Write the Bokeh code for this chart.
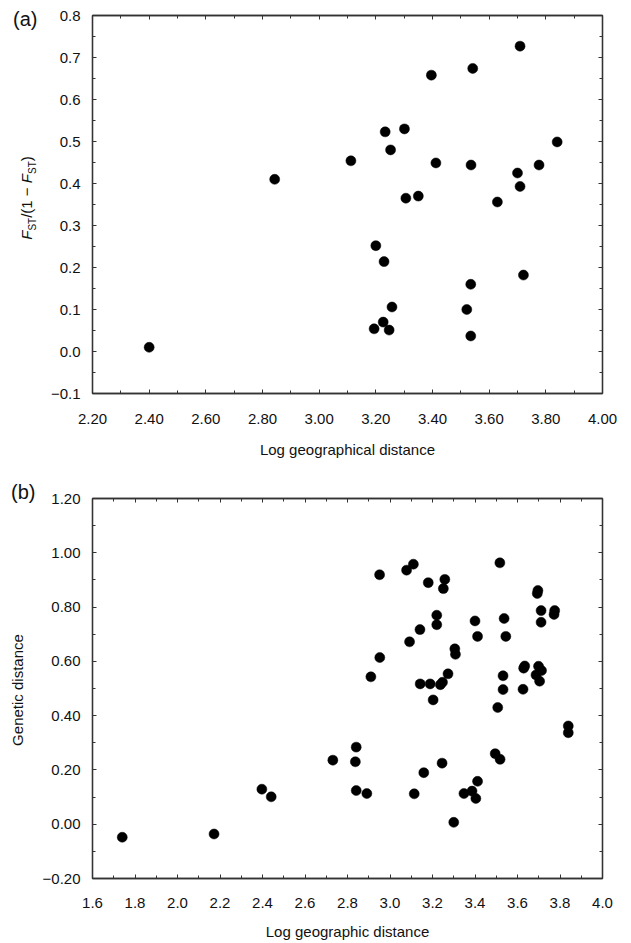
from bokeh.plotting import figure
from bokeh.models import (Range1d, LinearAxis, FixedTicker, CustomJSTickFormatter,
                          ColumnDataSource, Div)
from bokeh.layouts import column, row
from bokeh.embed import file_html
from bokeh.resources import INLINE

# ---------------- data: panel (a) ----------------
a_x = [2.400, 2.843, 3.112, 3.200, 3.229, 3.257, 3.194, 3.226, 3.247, 3.233,
       3.252, 3.301, 3.306, 3.350, 3.396, 3.412, 3.521, 3.535, 3.535, 3.536,
       3.542, 3.629, 3.700, 3.709, 3.709, 3.721, 3.776, 3.840]
a_y = [0.010, 0.410, 0.454, 0.252, 0.214, 0.106, 0.054, 0.070, 0.051, 0.523,
       0.480, 0.530, 0.365, 0.370, 0.658, 0.449, 0.100, 0.160, 0.037, 0.444,
       0.674, 0.356, 0.425, 0.393, 0.727, 0.182, 0.444, 0.499]

# ---------------- data: panel (b) ----------------
b_x = [2.951, 3.078, 3.110, 3.180, 3.258, 3.251, 3.517, 3.696, 3.693, 3.711,
       3.711, 3.775, 3.772, 3.220, 3.220, 3.141, 3.092, 3.400, 3.537, 3.412,
       3.545, 3.305, 3.308, 2.952, 2.910, 3.273, 3.142, 3.189, 3.237, 3.247,
       3.203, 3.532, 3.532, 3.626, 3.629, 3.634, 3.699, 3.713, 3.687, 3.704,
       3.507, 3.839, 3.839, 2.841, 2.731, 2.837, 2.841, 2.891, 3.114, 3.159,
       3.245, 3.300, 3.348, 3.386, 3.404, 3.412, 3.495, 3.518, 1.740, 2.172,
       2.397, 2.441]
b_y = [0.919, 0.936, 0.958, 0.890, 0.902, 0.868, 0.963, 0.861, 0.850, 0.787,
       0.744, 0.787, 0.773, 0.770, 0.735, 0.717, 0.672, 0.749, 0.758, 0.692,
       0.692, 0.646, 0.626, 0.614, 0.543, 0.554, 0.517, 0.517, 0.514, 0.523,
       0.458, 0.547, 0.496, 0.497, 0.575, 0.583, 0.582, 0.566, 0.550, 0.527,
       0.430, 0.362, 0.337, 0.284, 0.236, 0.230, 0.124, 0.113, 0.112, 0.190,
       0.225, 0.007, 0.113, 0.122, 0.095, 0.158, 0.260, 0.239, -0.048, -0.036,
       0.129, 0.101]

# ---------------- tick labels ----------------
a_xticks = [2.2, 2.4, 2.6, 2.8, 3.0, 3.2, 3.4, 3.6, 3.8, 4.0]
a_yticks = [-0.1, 0.0, 0.1, 0.2, 0.3, 0.4, 0.5, 0.6, 0.7, 0.8]
b_xticks = [1.6, 1.8, 2.0, 2.2, 2.4, 2.6, 2.8, 3.0, 3.2, 3.4, 3.6, 3.8, 4.0]
b_yticks = [-0.2, 0.0, 0.2, 0.4, 0.6, 0.8, 1.0, 1.2]

# ---------------- texts ----------------
a_xlabel = "Log geographical distance"
b_xlabel = "Log geographic distance"
b_ylabel = "Genetic distance"

FONT = "Liberation Sans"
AX_COLOR = "#333333"
TXT = "#111111"


def minors(ticks, n):
    out = []
    for i in range(len(ticks) - 1):
        step = (ticks[i + 1] - ticks[i]) / n
        for k in range(1, n):
            out.append(round(ticks[i] + k * step, 4))
    return out


def fmt(dec):
    return CustomJSTickFormatter(
        code="return tick.toFixed(%d).replace('-', '\\u2212');" % dec)


BLANK = CustomJSTickFormatter(code="return '';")


def style(ax):
    ax.axis_line_color = AX_COLOR
    ax.axis_line_width = 1.3
    ax.major_tick_in = 4
    ax.major_tick_out = 0
    ax.minor_tick_in = 3
    ax.minor_tick_out = 0
    ax.major_tick_line_color = AX_COLOR
    ax.minor_tick_line_color = AX_COLOR
    ax.major_label_text_font = FONT
    ax.major_label_text_font_size = "15px"
    ax.major_label_text_color = TXT
    ax.axis_label_text_font = FONT
    ax.axis_label_text_font_size = "15px"
    ax.axis_label_text_font_style = "normal"
    ax.axis_label_text_color = TXT


def make_panel(xs, ys, xr, yr, xt, yt, xdec, ydec, xminor, yminor,
               width, height, b_left, b_right, b_top, b_bottom,
               xlabel, x_standoff, xl_standoff, y_standoff):
    p = figure(width=width, height=height, output_backend="svg",
               toolbar_location=None, x_range=Range1d(*xr), y_range=Range1d(*yr),
               min_border_left=b_left, min_border_right=b_right,
               min_border_top=b_top, min_border_bottom=b_bottom,
               x_axis_type=None, y_axis_type=None)
    p.xgrid.visible = False
    p.ygrid.visible = False
    p.outline_line_color = AX_COLOR
    p.outline_line_width = 1.3
    p.background_fill_color = "white"
    p.border_fill_color = "white"

    xtick = FixedTicker(ticks=xt, minor_ticks=minors(xt, xminor))
    ytick = FixedTicker(ticks=yt, minor_ticks=minors(yt, yminor))

    bx = LinearAxis(ticker=xtick, formatter=fmt(xdec), axis_label=xlabel)
    style(bx)
    bx.major_label_standoff = x_standoff
    bx.axis_label_standoff = xl_standoff
    p.add_layout(bx, "below")

    ly = LinearAxis(ticker=ytick, formatter=fmt(ydec))
    style(ly)
    ly.major_label_standoff = y_standoff
    p.add_layout(ly, "left")

    tx = LinearAxis(ticker=xtick, formatter=BLANK)
    style(tx)
    tx.major_label_standoff = 0
    p.add_layout(tx, "above")

    ry = LinearAxis(ticker=ytick, formatter=BLANK)
    style(ry)
    ry.major_label_standoff = 0
    p.add_layout(ry, "right")

    src = ColumnDataSource(dict(x=xs, y=ys))
    p.scatter("x", "y", source=src, size=10, fill_color="black",
              line_color="black", line_width=0.5)
    return p


pa = make_panel(a_x, a_y, (2.2, 4.0), (-0.1, 0.8), a_xticks, a_yticks, 2, 1, 2, 2,
                592, 478, 50, 28, 15, 85, a_xlabel, 20, 14, 12)

pb = make_panel(b_x, b_y, (1.6, 4.0), (-0.2, 1.2), b_xticks, b_yticks, 1, 2, 2, 2,
                592, 464, 50, 29, 20, 64, b_xlabel, 19, 12, 12)

# left margin column: panel letters and rotated y-axis titles (HTML text)
base = "font-family:'%s';color:%s;position:absolute;white-space:nowrap;" % (FONT, TXT)
rot = ("height:20px;line-height:20px;text-align:center;"
       "transform:rotate(-90deg);transform-origin:50% 50%;font-size:15px;")
sub = "font-size:10px;position:relative;top:4px;"
fst_label = ("<i>F</i><span style=\"%s\">ST</span>/(1 \u2212 "
             "<i>F</i><span style=\"%s\">ST</span>)" % (sub, sub))
html = (
    "<div style=\"position:relative;width:39px;height:942px;\">"
    "<div style=\"%sleft:13px;top:7px;font-size:20px;line-height:24px;\">(a)</div>"
    "<div style=\"%s%sleft:-33px;top:188px;width:120px;\">%s</div>"
    "<div style=\"%sleft:11px;top:480px;font-size:20px;line-height:24px;\">(b)</div>"
    "<div style=\"%s%sleft:-52px;top:680px;width:140px;\">%s</div>"
    "</div>"
) % (base, base, rot, fst_label, base, base, rot, b_ylabel)

side = Div(text=html, width=39, height=942, margin=0)

layout = row(side, column(pa, pb, spacing=0), spacing=0)
open("out.html", "w").write(file_html(layout, INLINE))
